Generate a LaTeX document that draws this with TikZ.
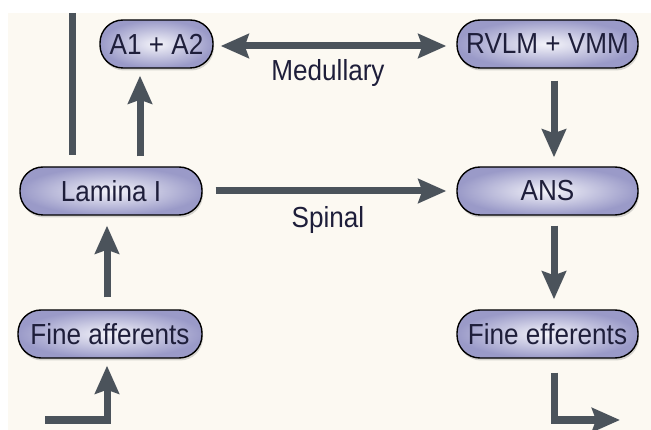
\documentclass[tikz,border=0pt]{standalone}
\usepackage{fontspec}
\setmainfont{Liberation Sans}
\newfontfamily\nodefont[FakeStretch=0.9]{Liberation Sans}
\usetikzlibrary{arrows.meta,shadows}
\definecolor{bgcream}{HTML}{FCF9F2}
\definecolor{arrcol}{HTML}{4B535B}
\definecolor{boxin}{HTML}{F4F4FA}
\definecolor{boxout}{HTML}{9A9AC8}
\definecolor{txtcol}{HTML}{1E1E3A}
\tikzset{
  box/.style={draw=black, line width=1.4pt, rounded corners=23pt, minimum height=48pt,
    inner sep=0pt, inner color=boxin, outer color=boxout, font=\nodefont\fontsize{29}{32}\selectfont,
    text=txtcol, drop shadow={shadow xshift=1pt, shadow yshift=-2.5pt, opacity=0.3}},
  arr/.style={draw=arrcol, line width=7pt, -{Stealth[length=28pt,width=24pt,inset=4pt]}},
  arrtwo/.style={draw=arrcol, line width=7pt, {Stealth[length=28pt,width=24pt,inset=4pt]}-{Stealth[length=28pt,width=24pt,inset=4pt]}},
  plainline/.style={draw=arrcol, line width=7pt},
  lbl/.style={font=\nodefont\fontsize{29}{32}\selectfont, text=txtcol, anchor=base, inner sep=0pt}
}
\begin{document}
\begin{tikzpicture}[x=1pt,y=-1pt]
\useasboundingbox (0,0) rectangle (651,430);
\fill[white] (0,0) rectangle (651,430);
\fill[bgcream] (8,13) rectangle (651,430);

\node[box, minimum width=113pt] (a12) at (156.5,44) {A1 + A2};
\node[box, minimum width=181pt] (rvlm) at (547.5,44) {RVLM + VMM};
\node[box, minimum width=182pt] (lam) at (111,191) {Lamina I};
\node[box, minimum width=181pt] (ans) at (547.5,191) {ANS};
\node[box, minimum width=184pt] (faff) at (110,334) {Fine afferents};
\node[box, minimum width=181pt] (feff) at (547.5,334) {Fine efferents};

\coordinate (xa) at (140,0);
\coordinate (xb) at (107,0);
\coordinate (xc) at (554,0);
\coordinate (lt) at (72,13);
\coordinate (lb) at (72,155);
\coordinate (bl) at (45,420);
\coordinate (br) at (620,420);

\draw[plainline] (lt) -- (lb);
\draw[arr, shorten <=10pt, shorten >=7pt] (lam.north -| xa) -- (a12.south -| xa);
\draw[arrtwo, shorten <=7pt, shorten >=10pt] ([yshift=-2pt]a12.east) -- ([yshift=-2pt]rvlm.west);
\draw[arr, shorten <=12pt, shorten >=9pt] (rvlm.south -| xc) -- (ans.north -| xc);
\draw[arr, shorten <=13pt, shorten >=10pt] (lam.east) -- (ans.west);
\draw[arr, shorten <=12pt, shorten >=10pt] (faff.north -| xb) -- (lam.south -| xb);
\draw[arr, shorten >=7pt] (bl) -| (faff.south -| xb);
\draw[arr, shorten <=10pt, shorten >=10pt] (ans.south -| xc) -- (feff.north -| xc);
\draw[arr, shorten <=14pt] (feff.south -| xc) |- (br);

\node[lbl] (med) at (328,81) {Medullary};
\node[lbl] (spi) at (328,228) {Spinal};
\end{tikzpicture}
\end{document}
